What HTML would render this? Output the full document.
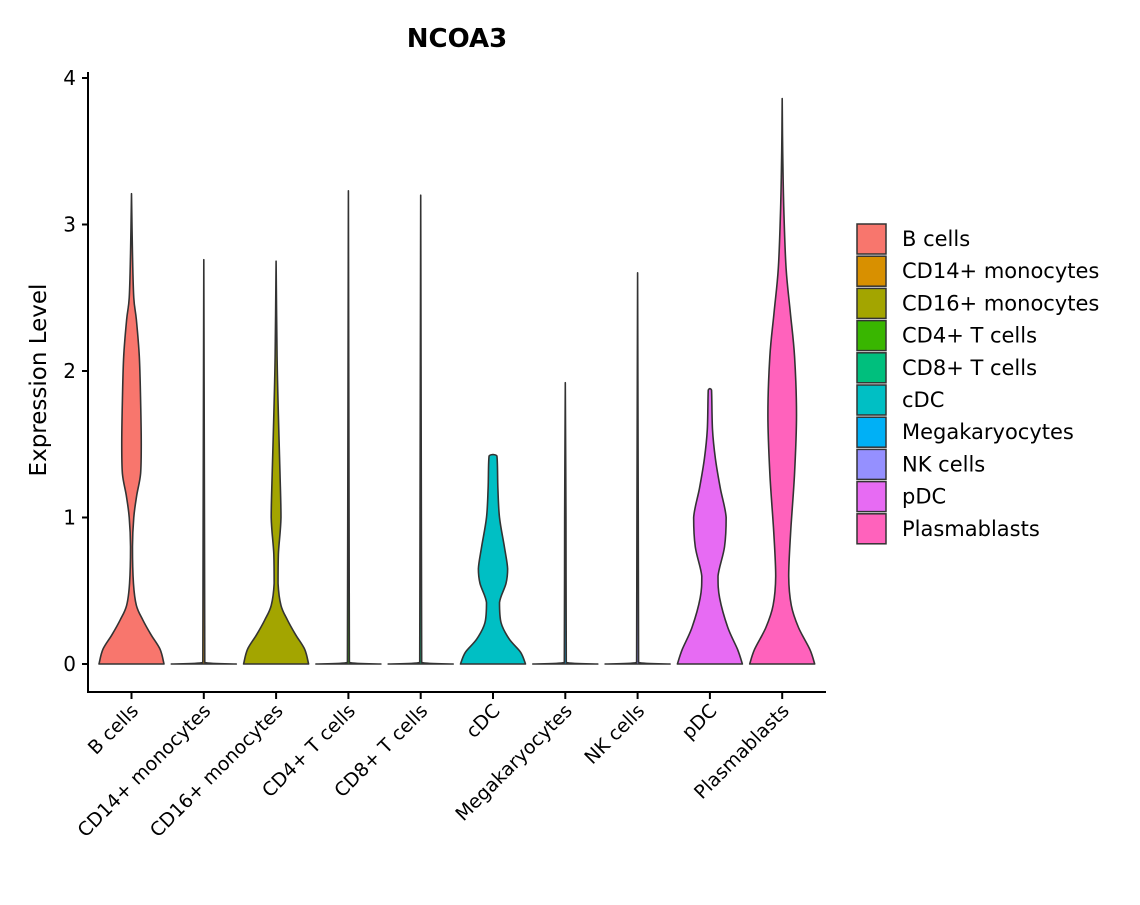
<!DOCTYPE html>
<html><head><meta charset="utf-8"><style>
body{margin:0;background:#fff;}
svg text{font-family:"DejaVu Sans","Liberation Sans",sans-serif;fill:#000;}
</style></head><body>
<svg id="chart" width="1140" height="900" xmlns="http://www.w3.org/2000/svg">
<text x="457" y="47" text-anchor="middle" font-size="26" font-weight="bold">NCOA3</text>
<text transform="translate(46,380) rotate(-90)" text-anchor="middle" font-size="23">Expression Level</text>
<g id="plot"></g>
<g id="legend"></g>
</svg>
<script>
const categories=["B cells","CD14+ monocytes","CD16+ monocytes","CD4+ T cells","CD8+ T cells","cDC","Megakaryocytes","NK cells","pDC","Plasmablasts"];
const colors=["#F8766D","#D89000","#A3A500","#39B600","#00BF7D","#00BFC4","#00B0F6","#9590FF","#E76BF3","#FF62BC"];
const yTicks=[0,1,2,3,4];
// each violin: [level, relative half-width]
const violinB=[[0,1],[0.1,0.88],[0.2,0.6],[0.3,0.35],[0.4,0.15],[0.55,0.06],[0.8,0.03],[1.0,0.07],[1.15,0.16],[1.3,0.28],[1.5,0.3],[1.8,0.28],[2.1,0.24],[2.35,0.15],[2.5,0.07],[2.8,0.03],[3.21,0]];
const violinCD14=[[0,1],[0.01,0.03],[1,0.02],[2.76,0]];
const violinCD16=[[0,1],[0.1,0.88],[0.2,0.6],[0.3,0.35],[0.4,0.15],[0.55,0.06],[0.75,0.07],[1.0,0.15],[1.3,0.12],[1.7,0.07],[2.1,0.03],[2.75,0]];
const violinCDC=[[0,1],[0.08,0.85],[0.17,0.5],[0.28,0.25],[0.42,0.2],[0.55,0.4],[0.65,0.45],[0.8,0.35],[1.0,0.2],[1.2,0.15],[1.42,0.12],[1.43,0]];
const violinCD4=[[0,1],[0.01,0.03],[1,0.02],[3.23,0]];
const violinCD8=[[0,1],[0.01,0.03],[1,0.02],[3.2,0]];
const violinMega=[[0,1],[0.01,0.03],[1,0.02],[1.92,0]];
const violinNK=[[0,1],[0.01,0.03],[1,0.02],[2.67,0]];
const violinPDC=[[0,1],[0.1,0.85],[0.25,0.55],[0.45,0.3],[0.6,0.25],[0.8,0.45],[1.0,0.5],[1.2,0.32],[1.4,0.17],[1.6,0.08],[1.87,0.05],[1.88,0]];
const violinPlasma=[[0,1],[0.1,0.85],[0.25,0.5],[0.4,0.28],[0.6,0.2],[0.9,0.26],[1.3,0.38],[1.7,0.44],[2.1,0.38],[2.4,0.25],[2.7,0.12],[3.1,0.05],[3.5,0.015],[3.86,0]];
const violins=[violinB,violinCD14,violinCD16,violinCD4,violinCD8,violinCDC,violinMega,violinNK,violinPDC,violinPlasma];
const NS="http://www.w3.org/2000/svg";
const plot=document.getElementById('plot'),legend=document.getElementById('legend');
const yS=v=>664-v*146.5, xS=i=>131.5+i*72.3, halfMax=32.5;
function mk(t,a,p){const e=document.createElementNS(NS,t);for(const k in a)e.setAttribute(k,a[k]);p.appendChild(e);return e;}
const cl=(v,a,b)=>Math.min(Math.max(v,Math.min(a,b)),Math.max(a,b));
function smooth(pts){
 let d='';
 for(let i=0;i<pts.length-1;i++){
  const p0=pts[Math.max(0,i-1)],p1=pts[i],p2=pts[i+1],p3=pts[Math.min(pts.length-1,i+2)];
  const c1=[cl(p1[0]+(p2[0]-p0[0])/6,p1[0],p2[0]),cl(p1[1]+(p2[1]-p0[1])/6,p1[1],p2[1])];
  const c2=[cl(p2[0]-(p3[0]-p1[0])/6,p1[0],p2[0]),cl(p2[1]-(p3[1]-p1[1])/6,p1[1],p2[1])];
  d+=` C${c1[0]},${c1[1]} ${c2[0]},${c2[1]} ${p2[0]},${p2[1]}`;
 }
 return d;
}
let ax=mk('line',{x1:88,y1:72,x2:88,y2:693,stroke:'#000','stroke-width':2},plot);

ax=mk('line',{x1:87,y1:692,x2:826,y2:692,stroke:'#000','stroke-width':2},plot);

yTicks.forEach(v=>{
 const t=mk('line',{x1:82,x2:88,y1:yS(v),y2:yS(v),stroke:'#000','stroke-width':2},plot);
 
 const l=mk('text',{x:76,y:yS(v)+7,'text-anchor':'end','font-size':20},plot);l.textContent=v;
 
});
categories.forEach((c,i)=>{
 const x=xS(i),pts=violins[i];
 const r=pts.map(p=>[x+p[1]*halfMax,yS(p[0])]),l=pts.slice().reverse().map(p=>[x-p[1]*halfMax,yS(p[0])]);
 const d='M'+r[0][0]+','+r[0][1]+smooth(r)+' L'+l[0][0]+','+l[0][1]+smooth(l)+'Z';
 const v=mk('path',{d:d,fill:colors[i],stroke:'#333','stroke-width':1.6,'stroke-linejoin':'round'},plot);
 
 
 const t=mk('line',{x1:x,x2:x,y1:692,y2:699,stroke:'#000','stroke-width':2},plot);
 
 const lb=mk('text',{transform:`translate(${x+8},${712}) rotate(-45)`,'text-anchor':'end','font-size':19},plot);lb.textContent=c;
 
 const y0=224+32.2*i;
 const b=mk('rect',{x:857,y:y0,width:29,height:30,fill:colors[i],stroke:'#333','stroke-width':1.5},legend);
 
 const lt=mk('text',{x:902,y:y0+22,'font-size':21},legend);lt.textContent=c;
 
});
</script>
</body></html>
